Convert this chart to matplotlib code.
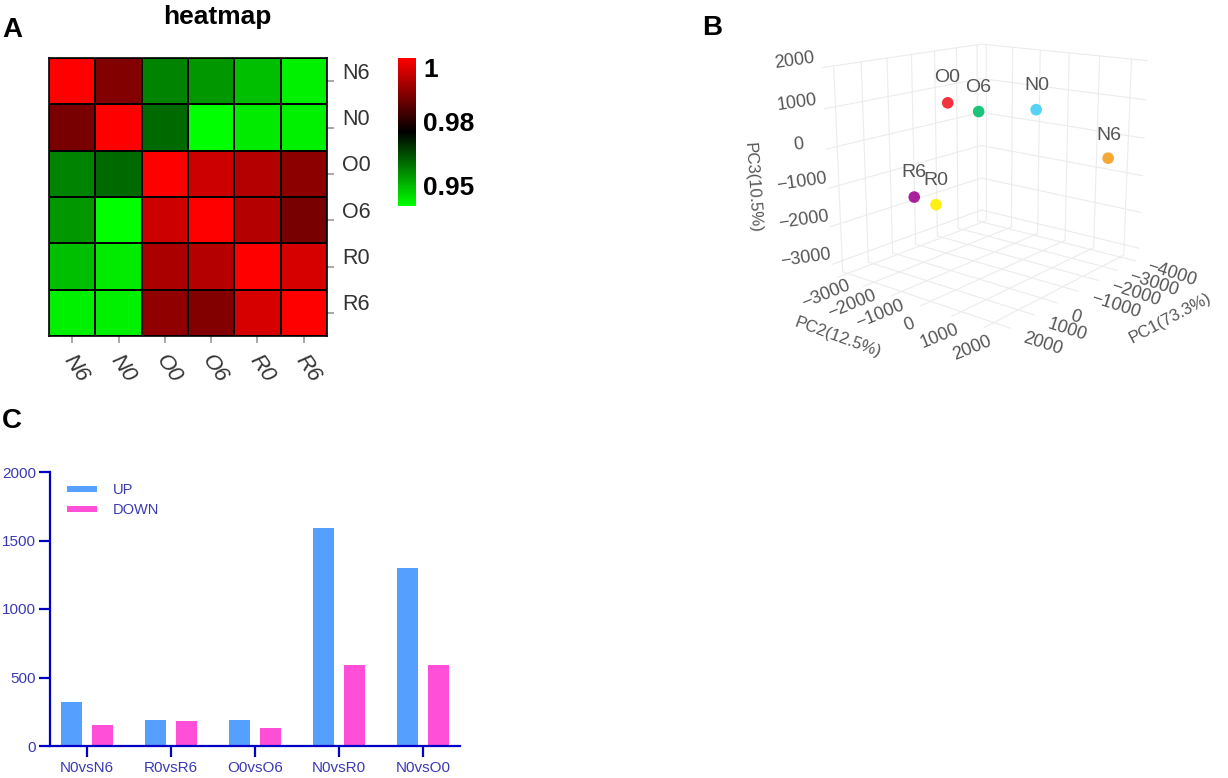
# Panels: A correlation heatmap, B 3D PCA, C DEG counts
import numpy as np
import matplotlib
matplotlib.use('Agg')
import matplotlib.pyplot as plt
from matplotlib.colors import LinearSegmentedColormap
from matplotlib.lines import Line2D
from matplotlib.transforms import ScaledTranslation
from mpl_toolkits.mplot3d import Axes3D  # noqa: F401

plt.rcParams['font.family'] = ['Liberation Sans', 'DejaVu Sans']

W, H = 1228, 778

# panel A data
samples = ['N6', 'N0', 'O0', 'O6', 'R0', 'R6']
corr = [
    [1.0, .9863, .9577, .9555, .9511, .9456],
    [.9852, 1.0, .9605, .944, .9462, .9456],
    [.9577, .9605, 1.0, .9945, .9918, .9874],
    [.9555, .944, .9945, 1.0, .9918, .9852],
    [.9511, .9462, .9907, .9918, 1.0, .9956],
    [.9456, .9456, .9879, .9863, .9956, 1.0],
]
cbar_ticks = [1.0, .976, .9516]
cbar_labels = ['1', '0.98', '0.95']

# panel B data
pc_names = ['O0', 'O6', 'N0', 'N6', 'R6', 'R0']
pc1 = [640, -500, -1700, -3300, 1650, 1500]
pc2 = [-500, -400, 600, 1900, -800, -200]
pc3 = [1220, 865, 865, -462, -950, -1060]
pc_colors = ['#f5333f', '#1cc47a', '#55d3f5', '#f5a833', '#a8209c', '#fcf014']
pc1_ticks = [-4000, -3000, -2000, -1000, 0, 1000, 2000]
pc2_ticks = [-3000, -2000, -1000, 0, 1000, 2000]
pc3_ticks = [-3000, -2000, -1000, 0, 1000, 2000]

# panel C data
comparisons = ['N0vsN6', 'R0vsR6', 'O0vsO6', 'N0vsR0', 'N0vsO0']
up = [320, 190, 190, 1592, 1297]
down = [151, 185, 130, 590, 592]


def px_axes(x0, y0, x1, y1, **kw):
    # axes from pixel box, y measured from the top
    return fig.add_axes([x0 / W, 1 - y1 / H, (x1 - x0) / W, (y1 - y0) / H], **kw)


def px_text(x, y, s, **kw):
    return fig.text(x / W, 1 - y / H, s, **kw)


def shift_labels(labels, dx, dy):
    # nudge tick labels by pixels (dy down)
    off = ScaledTranslation(dx / 100, -dy / 100, fig.dpi_scale_trans)
    for t in labels:
        t.set_transform(t.get_transform() + off)


fig = plt.figure(figsize=(W / 100, H / 100), dpi=100)

px_text(2, 30, 'A', fontsize=20, fontweight='bold', ha='left', va='center')
px_text(702, 28, 'B', fontsize=20, fontweight='bold', ha='left', va='center')
px_text(2, 421, 'C', fontsize=20, fontweight='bold', ha='left', va='center')

# ---- A: heatmap
cmap = LinearSegmentedColormap.from_list('gbr', ['#00ff00', '#000000', '#ff0000'])
ax_a = px_axes(49, 58, 327, 336)
mesh = ax_a.pcolormesh(np.array(corr), cmap=cmap, vmin=.944, vmax=1.0,
                       edgecolors='black', linewidth=1.3)
ax_a.invert_yaxis()
ax_a.set_xticks(np.arange(6) + .5)
ax_a.set_yticks(np.arange(6) + .5)
ax_a.set_xticklabels(samples, rotation=-55, fontsize=16, color='#333333', style='italic',
                     ha='center', va='top')
ax_a.set_yticklabels(samples, fontsize=15.5, color='#333333', va='center')
ax_a.yaxis.tick_right()
ax_a.tick_params(axis='both', color='#999999', length=5, width=1.2)
ax_a.tick_params(axis='x', pad=6)
ax_a.tick_params(axis='y', pad=6)
shift_labels(ax_a.get_yticklabels(), 0, -8)
shift_labels(ax_a.get_xticklabels(), 4, 0)
for s in ax_a.spines.values():
    s.set_linewidth(1.2)
fig.text(217 / W, 1 - 17 / H, 'heatmap', fontsize=19, fontweight='bold', ha='center', va='center')

cax = px_axes(398, 58, 416, 206)
cb = fig.colorbar(mesh, cax=cax)
cb.outline.set_visible(False)
cb.set_ticks(cbar_ticks)
cb.set_ticklabels(cbar_labels)
cax.tick_params(length=0, pad=5, labelsize=19)
for t in cax.get_yticklabels():
    t.set_fontweight('bold')
cax.get_yticklabels()[0].set_va('top')

# ---- B: PCA
ax_b = px_axes(720, -26, 1248, 374, projection='3d')
ax_b.patch.set_alpha(0)
ax_b.set_proj_type('persp', focal_length=.42)
ax_b.view_init(elev=14.7, azim=39)
ax_b.set_xlim(-4200, 2400)
ax_b.set_ylim(-3200, 2500)
ax_b.set_zlim(-3300, 2000)
ax_b.set_box_aspect((.81, .74, .72), zoom=.928)
for axis in (ax_b.xaxis, ax_b.yaxis, ax_b.zaxis):
    axis.set_pane_color((1, 1, 1, 0))
    axis.pane.set_edgecolor((1, 1, 1, 0))
    axis.line.set_color((1, 1, 1, 0))
    axis._axinfo['grid']['color'] = '#ececec'
    axis._axinfo['grid']['linewidth'] = .8
    axis._axinfo['tick']['inward_factor'] = 0
    axis._axinfo['tick']['outward_factor'] = 0
ax_b.set_xticks(pc1_ticks)
ax_b.set_yticks(pc2_ticks)
ax_b.set_zticks(pc3_ticks)
ax_b.tick_params(axis='x', labelsize=13, labelcolor='#555555', pad=0, labelrotation=-18)
ax_b.tick_params(axis='y', labelsize=13, labelcolor='#555555', pad=1.5, labelrotation=22)
ax_b.tick_params(axis='z', labelsize=13, labelcolor='#555555', pad=4, labelrotation=8)
for t in ax_b.xaxis.get_ticklabels():
    t.set_ha('left')
    t.set_va('center')
for t in ax_b.yaxis.get_ticklabels():
    t.set_va('center')
for t in ax_b.zaxis.get_ticklabels():
    t.set_va('baseline')
ax_b.scatter(pc1, pc2, pc3, c=pc_colors, s=70, depthshade=False, edgecolors='none', alpha=1)
for name, a, b, c in zip(pc_names, pc1, pc2, pc3):
    ax_b.text(a, b, c + 600, name, fontsize=14, color='#555555', ha='center', va='center')
px_text(1170, 318, 'PC1(73.3%)', fontsize=12, color='#555555', rotation=28, ha='center', va='center')
px_text(838, 338, 'PC2(12.5%)', fontsize=12, color='#555555', rotation=-20, ha='center', va='center')
px_text(752, 188, 'PC3(10.5%)', fontsize=12, color='#555555', rotation=-86, ha='center', va='center')

# ---- C: bars
blue = '#0000c4'
ax_c = px_axes(50, 472, 460, 746)
xs = np.arange(len(comparisons))
ax_c.bar(xs - .19, up, .25, color='#55a0ff')
ax_c.bar(xs + .19, down, .25, color='#ff4fd8')
ax_c.set_xlim(-.44, 4.44)
ax_c.set_ylim(0, 2000)
ax_c.set_yticks([0, 500, 1000, 1500, 2000])
ax_c.set_xticks(xs)
ax_c.set_xticklabels(comparisons)
ax_c.spines[['top', 'right']].set_visible(False)
ax_c.spines[['left', 'bottom']].set_color(blue)
ax_c.spines[['left', 'bottom']].set_linewidth(1.6)
ax_c.tick_params(axis='y', color=blue, width=1.6, length=8, pad=2, labelsize=11, labelcolor='#3a3ab4')
ax_c.tick_params(axis='x', color=blue, width=1.6, length=8, pad=3, labelsize=11, labelcolor='#3a3ab4')
handles = [Line2D([], [], color='#55a0ff', lw=4.3, solid_capstyle='butt'),
           Line2D([], [], color='#ff4fd8', lw=4.3, solid_capstyle='butt')]
ax_c.legend(handles, ['UP', 'DOWN'], loc='upper left', bbox_to_anchor=(.042, .96),
            frameon=False, fontsize=10.5, labelcolor='#3a3ab4', borderaxespad=0, borderpad=0,
            handlelength=2.05, handletextpad=1.1, labelspacing=.4)

fig.savefig('out.png', dpi=100)
